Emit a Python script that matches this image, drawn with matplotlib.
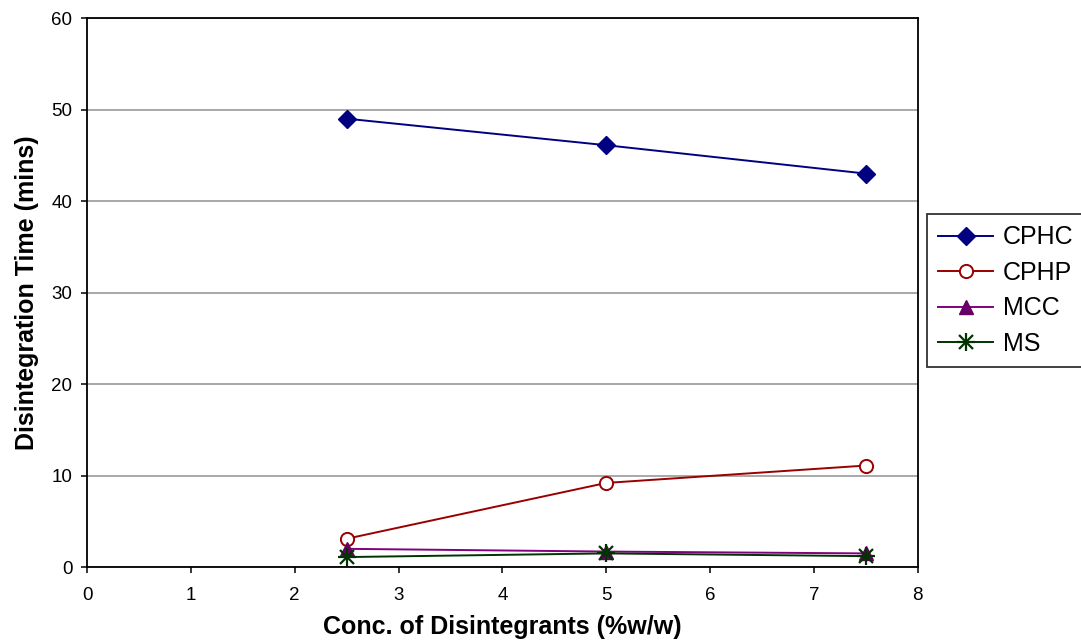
import matplotlib
matplotlib.use("Agg")
import matplotlib.pyplot as plt
from matplotlib.lines import Line2D

plt.rcParams['font.family'] = ['Liberation Sans', 'DejaVu Sans']

conc = [2.5, 5, 7.5]
cphc = [49.0, 46.1, 43.0]
cphp = [3.1, 9.2, 11.1]
mcc = [2.0, 1.7, 1.5]
ms = [1.1, 1.5, 1.2]
labels = ['CPHC', 'CPHP', 'MCC', 'MS']

fig = plt.figure(figsize=(10.81, 6.43), dpi=100)
ax = fig.add_axes([0.0805, 0.118, 0.7685, 0.854])

styles = [
    dict(color='#000080', marker='D', markersize=9.5, lw=1.4),
    dict(color='#990000', marker='o', markersize=9.5, mfc='white', mew=1.4, lw=1.4),
    dict(color='#800080', marker='^', markersize=10, mfc='#660066', mec='#660066', lw=1.4),
    dict(color='#003300', marker='x', markersize=10, mew=1.6, lw=1.4),
]
star = dict(color='#003300', marker='+', markersize=13, mew=1.6, lw=0)

for y, st, lab in zip([cphc, cphp, mcc, ms], styles, labels):
    ax.plot(conc, y, label=lab, **st)
ax.plot(conc, ms, **star)

ax.set_xlim(0, 8)
ax.set_ylim(0, 60)
ax.set_xticks(range(0, 9))
ax.set_yticks(range(0, 61, 10))
ax.yaxis.grid(True, color='#999999', lw=1.2)
ax.set_axisbelow(True)
for s in ax.spines.values():
    s.set_color('black')
    s.set_linewidth(1.3)
ax.tick_params(labelsize=13.5, direction='out', length=4.5, width=1.1)
ax.tick_params(axis='y', pad=6)
ax.tick_params(axis='x', pad=10)
ax.set_xlabel('Conc. of Disintegrants (%w/w)', fontsize=18, fontweight='bold', labelpad=8)
ax.set_ylabel('Disintegration Time (mins)', fontsize=18, fontweight='bold', labelpad=9)

handles = [Line2D([], [], **styles[0]), Line2D([], [], **styles[1]),
           Line2D([], [], **styles[2]),
           (Line2D([], [], **styles[3]), Line2D([], [], **star))]
leg = fig.legend(handles, labels, loc='upper left',
                 bbox_to_anchor=(927/1081, 1-214/643), fontsize=18, frameon=True,
                 fancybox=False, edgecolor='black', handlelength=2.2, borderpad=0.45,
                 labelspacing=0.46, handletextpad=0.4, borderaxespad=0)
leg.get_frame().set_linewidth(1.3)

fig.savefig('out.png', dpi=100)
